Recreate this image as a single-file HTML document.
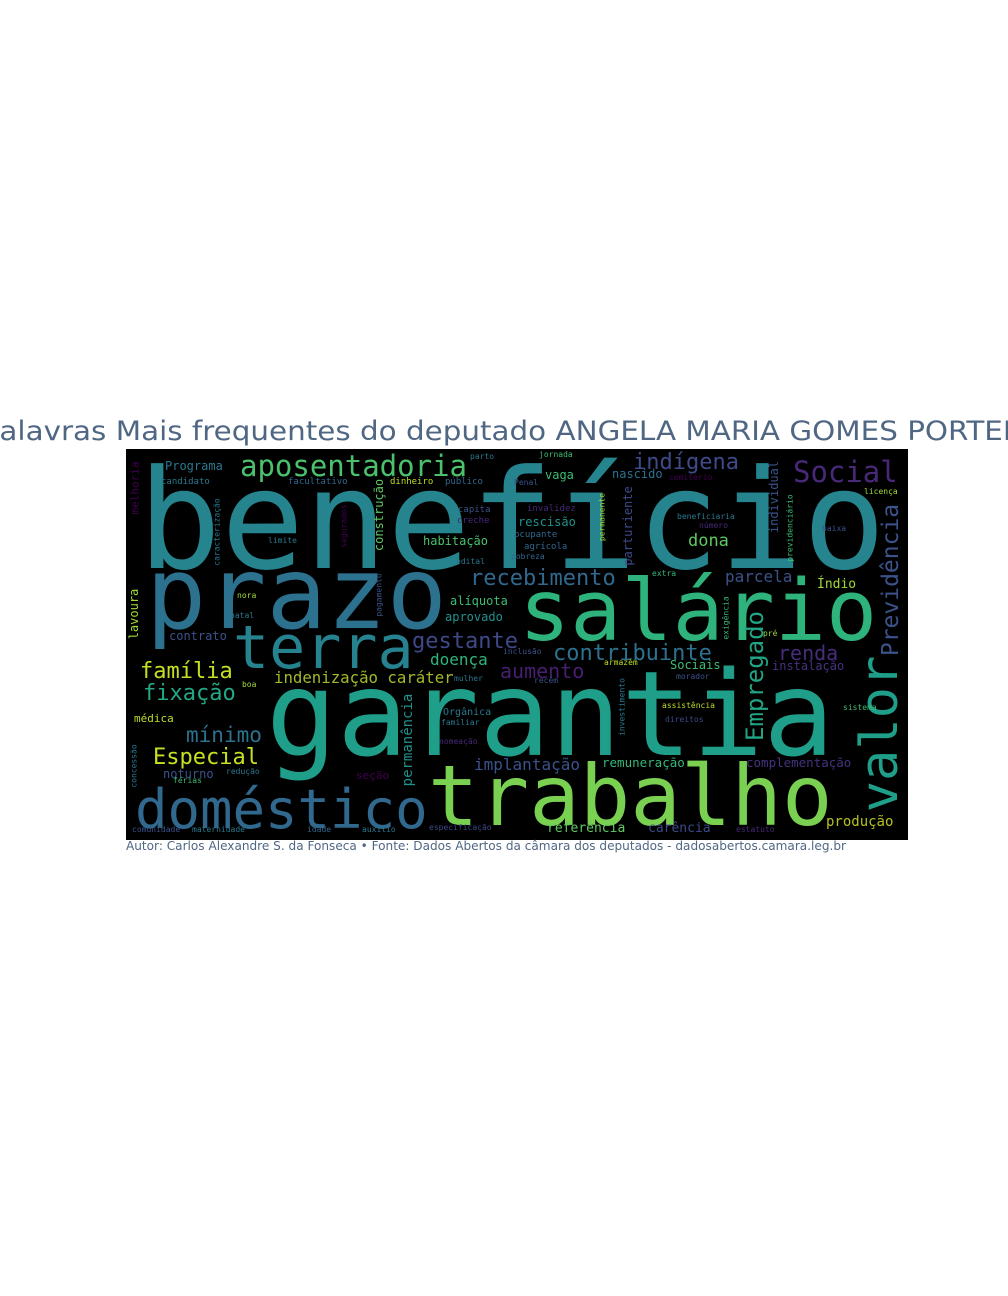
<!DOCTYPE html>
<html><head><meta charset="utf-8">
<style>
html,body{margin:0;padding:0;background:#fff;width:1008px;height:1296px;overflow:hidden}
svg{display:block}
.w{font-family:"DejaVu Sans Mono","Liberation Mono",monospace}
</style></head>
<body>
<svg id="chart" width="1008" height="1296" viewBox="0 0 1008 1296" xmlns="http://www.w3.org/2000/svg">
<text x="-17" y="440" font-family="DejaVu Sans, Liberation Sans, sans-serif" font-size="27" fill="#506784" textLength="1057" lengthAdjust="spacingAndGlyphs">Palavras Mais frequentes do deputado ANGELA MARIA GOMES PORTELA</text>
<rect x="126" y="449" width="782" height="391" fill="#000"/>
<g id="words"></g>
<text x="126" y="850" font-family="DejaVu Sans, Liberation Sans, sans-serif" font-size="12" fill="#506784" textLength="720" lengthAdjust="spacingAndGlyphs">Autor: Carlos Alexandre S. da Fonseca • Fonte: Dados Abertos da câmara dos deputados - dadosabertos.camara.leg.br</text>
</svg>
<script>
// word list (word cloud data)
const words = ["benefício","prazo","salário","garantia","trabalho","terra","doméstico","aposentadoria","valor","Previdência","Empregado","Social","indígena","recebimento","contribuinte","gestante","família","fixação","Especial","mínimo","aumento","renda","parcela","dona","doença","indenização caráter","implantação","remuneração","complementação","produção","referência","carência","Programa","habitação","rescisão","alíquota","aprovado","contrato","lavoura","melhoria","permanência","construção","parturiente","individual","Índio","Sociais","instalação","noturno","médica","seção","nascido","vaga","Orgânica","candidato","facultativo","dinheiro","público","parto","jornada","Penal","cemitério","capita","creche","invalidez","ocupante","agrícola","pobreza","edital","limite","nora","natal","beneficiaria","número","baixa","licença","previdenciário","comunidade","maternidade","idade","auxílio","especificação","estatuto","direitos","assistência","sistema","redução","férias","familiar","nomeação","mulher","morador","recém","inclusão","armazém","extra","pré","boa","caracterização","segurados","pagamento","permanente","exigência","concessão","investimento"];
// font sizes (relative weight)
const sizes = [138,100,85,118,84,60,54,29,52,23,24,29,22,22,22,22,22,22,22,21,20,20,16,17,16,15.7,16,12.5,12.5,14,13,13,12,12,12,12,12,12,12,11,14,12,12,12,13,12,12,12,11,11,12,12,10,9,9,9,9,8,8,8,8,9,9,9,9,9,8,8,8,8,8,8,8,8,8,8,8,8,8,8,8,8,8,8,8,8,8,8,8,8,8,8,8,8,8,8,8,8,8,8,8,8,8,8];
// layout: [x, y, rotated(0/1)] — x left/baseline for horizontal, center for rotated
const place = [[138,568,0],[146,628,0],[519,640,0],[266,755,0],[428,825,0],[233,668,0],[135,828,0],[240,476,0],[880,734,1],[891,580,1],[755,676,1],[793,482,0],[633,469,0],[470,585,0],[553,660,0],[412,648,0],[140,678,0],[143,700,0],[153,764,0],[186,742,0],[500,678,0],[778,660,0],[725,582,0],[688,546,0],[430,665,0],[274,683,0],[474,770,0],[602,767,0],[746,767,0],[826,826,0],[547,832,0],[648,832,0],[165,470,0],[423,545,0],[518,526,0],[450,605,0],[445,621,0],[169,640,0],[134,614,1],[135,488,1],[408,740,1],[379,515,1],[628,526,1],[774,497,1],[817,588,0],[670,669,0],[772,670,0],[163,778,0],[134,722,0],[356,779,0],[612,478,0],[545,479,0],[443,715,0],[161,484,0],[288,484,0],[390,484,0],[445,484,0],[470,459,0],[539,457,0],[514,485,0],[669,480,0],[458,512,0],[457,523,0],[527,511,0],[514,537,0],[524,549,0],[511,559,0],[456,564,0],[268,543,0],[237,598,0],[230,618,0],[677,519,0],[699,528,0],[822,531,0],[864,494,0],[790,528,1],[132,832,0],[192,832,0],[307,832,0],[362,832,0],[429,830,0],[736,832,0],[665,722,0],[662,708,0],[843,710,0],[226,774,0],[173,783,0],[441,725,0],[439,744,0],[454,681,0],[676,679,0],[534,683,0],[503,654,0],[604,665,0],[652,576,0],[763,636,0],[242,687,0],[217,532,1],[344,526,1],[379,595,1],[602,517,1],[726,618,1],[134,766,1],[622,707,1]];
// colors (viridis tones)
const colors = ["#25848e","#2c718e","#2eb37c","#1f9e89","#7ad151","#26828e","#31688e","#4ac16d","#1f9e89","#3b528b","#21a585","#482878","#3e4a89","#31688e","#2c728e","#3e4989","#c5e021","#22a884","#c8e020","#2c728e","#481f70","#472d7b","#3b528b","#5ec962","#2fb47c","#a5b82a","#3b528b","#35b779","#46327e","#b5c21e","#5ec962","#3e4989","#2a788e","#4ac16d","#21918c","#3dbc74","#21918c","#3b528b","#a0da39","#440154","#21918c","#5ec962","#3e4989","#3b528b","#a0da39","#3dbc74","#46327e","#3b528b","#bddf26","#440154","#2c728e","#3dbc74","#2a788e","#2a788e","#31688e","#bddf26","#31688e","#2a788e","#3dbc74","#3b528b","#440154","#3b528b","#482878","#482878","#31688e","#31688e","#31688e","#2a788e","#2a788e","#a0da39","#2a788e","#2a788e","#482878","#3b528b","#a0da39","#3dbc74","#3b528b","#2a788e","#31688e","#2a788e","#3e4989","#482878","#3e4989","#bddf26","#3dbc74","#2a788e","#3dbc74","#2a788e","#482878","#2a788e","#3b528b","#3b528b","#3b528b","#bddf26","#35b779","#a0da39","#a0da39","#2a788e","#440154","#3b528b","#a0da39","#35b779","#2a788e","#2a788e"];
const g = document.getElementById('words');
const NS = "http://www.w3.org/2000/svg";
for (let i = 0; i < words.length; i++) {
  const t = document.createElementNS(NS, 'text');
  
  
  t.setAttribute('class', 'w');
  const fs = sizes[i] || 8, p = place[i];
  t.setAttribute('font-size', fs);
  t.setAttribute('fill', colors[i] || '#2a788e');
  t.setAttribute('textLength', (words[i].length * 0.602 * fs).toFixed(1));
  t.setAttribute('lengthAdjust', 'spacingAndGlyphs');
  t.setAttribute('x', p[0]);
  t.setAttribute('y', p[1]);
  if (p[2]) {
    t.setAttribute('text-anchor', 'middle');
    t.setAttribute('dominant-baseline', 'central');
    t.setAttribute('transform', 'rotate(-90 ' + p[0] + ' ' + p[1] + ')');
  }
  t.textContent = words[i];
  g.appendChild(t);
}
</script>
</body></html>
